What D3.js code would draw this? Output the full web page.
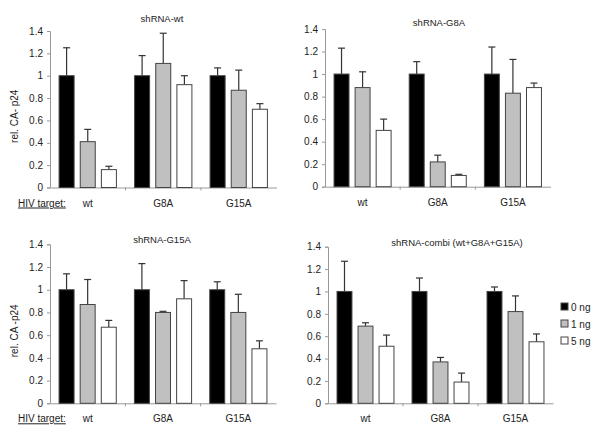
<!DOCTYPE html>
<html><head><meta charset="utf-8">
<script src="https://cdn.jsdelivr.net/npm/d3@7"></script>
<style>body{margin:0;background:#fff}svg{display:block;font-family:"Liberation Sans",Arial,sans-serif}</style>
</head><body><svg id="c" width="600" height="433"></svg>
<script>
const categories = ["wt","G8A","G15A"];
const series = ["0 ng","1 ng","5 ng"];
const yTicks = [0,0.2,0.4,0.6,0.8,1,1.2,1.4];
const titles = ["shRNA-wt","shRNA-G8A","shRNA-G15A","shRNA-combi (wt+G8A+G15A)"];
// values[panel][category][series]
const valuesWt    = [[1,0.41,0.16],[1,1.11,0.92],[1,0.87,0.70]];
const errorsWt    = [[1.25,0.52,0.19],[1.18,1.38,1.00],[1.07,1.05,0.75]];
const valuesG8A   = [[1,0.88,0.50],[1,0.22,0.10],[1,0.83,0.88]];
const errorsG8A   = [[1.23,1.02,0.60],[1.11,0.28,0.11],[1.24,1.13,0.92]];
const valuesG15A  = [[1,0.87,0.67],[1,0.80,0.92],[1,0.80,0.48]];
const errorsG15A  = [[1.14,1.09,0.73],[1.23,0.81,1.08],[1.07,0.96,0.55]];
const valuesCombi = [[1,0.69,0.51],[1,0.37,0.19],[1,0.82,0.55]];
const errorsCombi = [[1.27,0.72,0.61],[1.12,0.41,0.27],[1.04,0.96,0.62]];

const panels = [
  {vals:valuesWt, errs:errorsWt, x0:50, x1:276.5, yTop:31, yBot:187.5, title:titles[0], tx:162, ty:22, ylab:"rel. CA- p24", hiv:true},
  {vals:valuesG8A, errs:errorsG8A, x0:325, x1:550.5, yTop:29, yBot:186.7, title:titles[1], tx:439, ty:26, ylab:null, hiv:false},
  {vals:valuesG15A, errs:errorsG15A, x0:50, x1:276, yTop:244.3, yBot:403.3, title:titles[2], tx:162, ty:243, ylab:"rel. CA -p24", hiv:true},
  {vals:valuesCombi, errs:errorsCombi, x0:328, x1:553, yTop:246.7, yBot:403.3, title:titles[3], tx:457, ty:246, ylab:null, hiv:false}
];
const fills = ["#000000","#c0c0c0","#ffffff"];
const svg = d3.select("#c");

panels.forEach(p=>{
  const g = svg.append("g");
  const y = d3.scaleLinear().domain([0,1.4]).range([p.yBot,p.yTop]);
  const xc = d3.scaleBand().domain(categories).range([p.x0,p.x1]);
  const xs = d3.scaleBand().domain(series).range([0,xc.bandwidth()]).paddingInner(0.29).paddingOuter(0.43);

  // y axis
  const ya = g.append("g").attr("transform",`translate(${p.x0},0)`)
    .call(d3.axisLeft(y).tickValues(yTicks).tickSize(3).tickPadding(4).tickFormat(d=>d3.format("~g")(d)));
  ya.select(".domain").attr("stroke","#999");
  ya.selectAll(".tick line").attr("stroke","#999");
  ya.selectAll("text").attr("font-size",10).attr("fill","#222").attr("font-family","Liberation Sans, Arial, sans-serif");

  // x axis
  const xa = g.append("g").attr("transform",`translate(0,${p.yBot})`)
    .call(d3.axisBottom(xc).tickSize(0).tickPadding(12));
  xa.select(".domain").attr("stroke","#999");
  xa.selectAll("text").attr("font-size",10).attr("fill","#222").attr("font-family","Liberation Sans, Arial, sans-serif");
  // separator ticks
  g.selectAll("line.sep").data(categories.slice(1)).join("line")
    .attr("x1",d=>xc(d)).attr("x2",d=>xc(d)).attr("y1",p.yBot).attr("y2",p.yBot+3).attr("stroke","#999");

  categories.forEach((c,ci)=>{
    series.forEach((s,si)=>{
      const v = p.vals[ci][si], e = p.errs[ci][si];
      const bx = xc(c)+xs(s), bw = xs.bandwidth(), cx = bx+bw/2;
      g.append("line").attr("x1",cx).attr("x2",cx).attr("y1",y(v)).attr("y2",y(e)).attr("stroke","#333").attr("stroke-width",1.2);
      g.append("line").attr("x1",cx-3.5).attr("x2",cx+3.5).attr("y1",y(e)).attr("y2",y(e)).attr("stroke","#333").attr("stroke-width",1.2);
      g.append("rect").attr("x",bx).attr("y",y(v)).attr("width",bw).attr("height",y(0)-y(v))
        .attr("fill",fills[si]).attr("stroke","#444").attr("stroke-width",1);
    });
  });

  g.append("text").attr("x",p.tx).attr("y",p.ty).attr("text-anchor","middle").attr("font-size",9.5).attr("fill","#222").text(p.title);
  if(p.ylab){
    const cy=(p.yTop+p.yBot)/2+7;
    g.append("text").attr("transform",`translate(18,${cy}) rotate(-90)`).attr("text-anchor","middle").attr("font-size",10).attr("fill","#222").text(p.ylab);
  }
  if(p.hiv){
    g.append("text").attr("x",18).attr("y",p.yBot+19).attr("font-size",10).attr("fill","#222").attr("text-decoration","underline").text("HIV target:");
  }
});

// legend
const lg = svg.append("g");
series.forEach((s,i)=>{
  const yy = [307,324,341][i];
  lg.append("rect").attr("x",561).attr("y",yy-4).attr("width",7).attr("height",7).attr("fill",fills[i]).attr("stroke","#444");
  lg.append("text").attr("x",571).attr("y",yy+3.5).attr("font-size",10).attr("fill","#222").text(s);
});
</script></body></html>
